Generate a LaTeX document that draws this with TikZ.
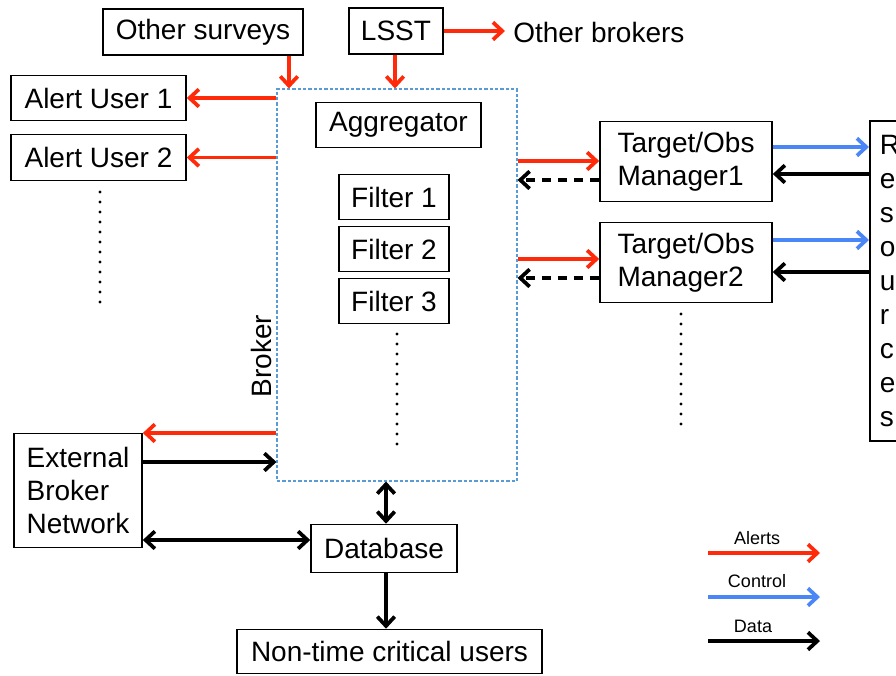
\documentclass[tikz,border=0pt]{standalone}
\usepackage{fontspec}
\setmainfont{Liberation Sans}
\usetikzlibrary{arrows.meta}
\definecolor{alertred}{HTML}{FF2A0A}
\definecolor{ctrlblue}{HTML}{4A86F5}
\definecolor{brokerblue}{HTML}{5B9BD5}
\begin{document}
\begin{tikzpicture}[x=0.75pt,y=-0.75pt,
  box/.style={draw, line width=1.2pt, inner sep=0pt, font=\fontsize{21}{25}\selectfont},
  plain/.style={inner sep=0pt, font=\fontsize{21}{25}\selectfont},
  legtext/.style={inner sep=0pt, font=\fontsize{13.5}{16}\selectfont},
  arr/.style={line width=2.8pt, -{Straight Barb[length=7pt,width=13pt]}},
  darr/.style={line width=2.8pt, {Straight Barb[length=7pt,width=13pt]}-{Straight Barb[length=7pt,width=13pt]}},
  alertarr/.style={arr, draw=alertred},
  ctrlarr/.style={arr, draw=ctrlblue},
  dataarr/.style={arr, draw=black},
  dasharr/.style={arr, draw=black, dash pattern=on 7pt off 5pt},
  dotcol/.style={line width=2.6pt, line cap=round, dash pattern=on 0pt off 7.5pt},
  brokerbox/.style={draw=brokerblue, line width=0.8pt, dash pattern=on 2.5pt off 1.5pt, inner sep=0pt}
]
\path[use as bounding box] (0,0) rectangle (896,675);
\clip (0,0) rectangle (896,675);

% boxes
\node[box, minimum width=150pt, minimum height=34.5pt] (other) at (203,32) {Other surveys};
\node[box, minimum width=70.5pt, minimum height=34.5pt] (lsst) at (396,31) {LSST};
\node[plain, anchor=west] (otherb) at (513,32) {Other brokers};
\coordinate (obtip) at (505,31);
\node[box, minimum width=131.25pt, minimum height=33.75pt] (au1) at (98.5,98) {Alert User 1};
\node[box, minimum width=131.25pt, minimum height=34.5pt] (au2) at (98.5,157.5) {Alert User 2};

\node[brokerbox, minimum width=180pt, minimum height=294pt] (broker) at (397,285) {};
\node[plain, rotate=90] (blabel) at (261,356) {Broker};

\node[box, minimum width=123.75pt, minimum height=33.75pt] (agg) at (398.5,125) {Aggregator};
\node[box, minimum width=82.5pt, minimum height=33.75pt] (f1) at (394,197) {Filter 1};
\node[box, minimum width=82.5pt, minimum height=33.75pt] (f2) at (394,249) {Filter 2};
\node[box, minimum width=82.5pt, minimum height=33.75pt] (f3) at (394,301) {Filter 3};

\node[box, minimum width=129pt, minimum height=60pt, align=left] (m1) at (686,161.5) {Target/Obs\\Manager1};
\node[box, minimum width=129pt, minimum height=60pt, align=left] (m2) at (686,262.5) {Target/Obs\\Manager2};

\node[box, anchor=west, minimum height=240pt, text width=60pt, inner xsep=7.5pt, align=left,
      font=\fontsize{21}{25.5}\selectfont] (res) at (869,281) {R\\e\\s\\o\\u\\r\\c\\e\\s};

\node[box, minimum width=96pt, minimum height=85.5pt, align=left] (ext) at (78,490.5) {External\\Broker\\Network};
\node[box, minimum width=109.5pt, minimum height=36pt] (db) at (384,548.5) {Database};
\node[box, minimum width=228.75pt, minimum height=33pt] (ntc) at (389.5,651.5) {Non-time critical users};

% helper coordinates
\coordinate (osx) at (289,0);
\coordinate (lsx) at (395,0);
\coordinate (dbx) at (386,0);
\coordinate (extred) at (0,433);
\coordinate (extblk) at (0,462);
\coordinate (extdb) at (0,540);

% top arrows
\draw[alertarr] (other.south -| osx) -- (broker.north -| osx);
\draw[alertarr] (lsst.south -| lsx) -- (broker.north -| lsx);
\draw[alertarr] (lsst.east) -- (obtip);

% alert users
\draw[alertarr] (broker.west |- au1.east) -- (au1.east);
\draw[alertarr] (broker.west |- au2.east) -- (au2.east);

% managers
\coordinate (m1r) at (0,161);
\coordinate (m1d) at (0,180);
\coordinate (m2r) at (0,259);
\coordinate (m2d) at (0,278);
\coordinate (m1c) at (0,147);
\coordinate (m1k) at (0,174);
\coordinate (m2c) at (0,240);
\coordinate (m2k) at (0,272);
\draw[alertarr] (broker.east |- m1r) -- (m1.west |- m1r);
\draw[dasharr] (m1.west |- m1d) -- (broker.east |- m1d);
\draw[alertarr] (broker.east |- m2r) -- (m2.west |- m2r);
\draw[dasharr] (m2.west |- m2d) -- (broker.east |- m2d);
\draw[ctrlarr] (m1.east |- m1c) -- (res.west |- m1c);
\draw[dataarr] (res.west |- m1k) -- (m1.east |- m1k);
\draw[ctrlarr] (m2.east |- m2c) -- (res.west |- m2c);
\draw[dataarr] (res.west |- m2k) -- (m2.east |- m2k);

% external broker network
\draw[alertarr] (broker.west |- extred) -- (ext.east |- extred);
\draw[dataarr] (ext.east |- extblk) -- (broker.west |- extblk);
\draw[darr] (ext.east |- extdb) -- (db.west |- extdb);

% database
\draw[darr] (broker.south -| dbx) -- (db.north -| dbx);
\draw[dataarr] (db.south -| dbx) -- (ntc.north -| dbx);

% dotted columns
\coordinate (d1a) at (100,192);
\coordinate (d1b) at (100,305);
\coordinate (d2a) at (397,334);
\coordinate (d2b) at (397,447);
\coordinate (d3a) at (681,314);
\coordinate (d3b) at (681,427);
\draw[dotcol] (d1a) -- (d1b);
\draw[dotcol] (d2a) -- (d2b);
\draw[dotcol] (d3a) -- (d3b);

% legend
\node[legtext] (lalert) at (757,538) {Alerts};
\node[legtext] (lctrl) at (757,581) {Control};
\node[legtext] (ldata) at (753,626) {Data};
\coordinate (la1) at (708,553);
\coordinate (la2) at (820,553);
\coordinate (lc1) at (708,597);
\coordinate (lc2) at (820,597);
\coordinate (ld1) at (708,641);
\coordinate (ld2) at (820,641);
\draw[alertarr] (la1) -- (la2);
\draw[ctrlarr] (lc1) -- (lc2);
\draw[dataarr] (ld1) -- (ld2);
\end{tikzpicture}
\end{document}
